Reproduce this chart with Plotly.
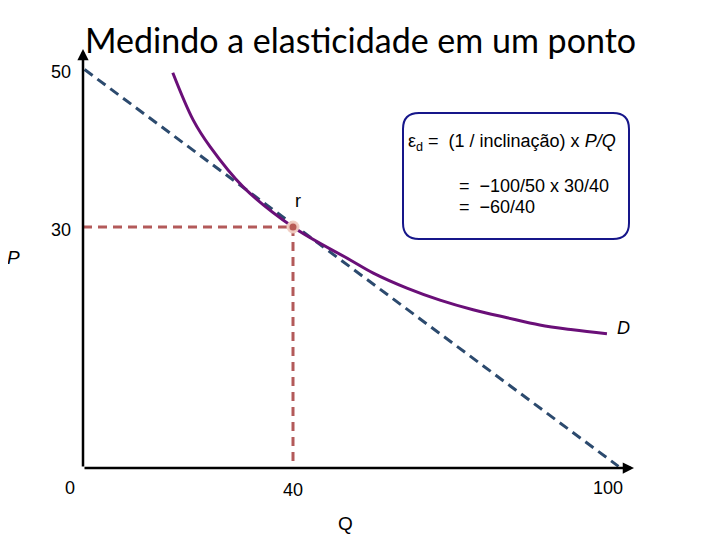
import plotly.graph_objects as go

# ---------------- data ----------------
demand_q = [17.1, 21.0, 24.2, 30.5, 40.0, 50.9, 55.2, 61.7, 68.0, 74.3, 80.8, 87.0, 93.3, 99.8]
demand_p = [49.2, 43.3, 40.0, 35.0, 30.0, 25.9, 24.3, 22.4, 20.9, 19.7, 18.7, 17.8, 17.2, 16.7]
tangent_q = [0.3, 102.0]
tangent_p = [49.6, 0.2]
point_q = [40]
point_p = [30]
x_tick_vals = [0, 40, 100]
x_tick_text = ["0", "40", "100"]
y_tick_vals = [30, 50]
y_tick_text = ["30", "50"]
title_text = "Medindo a elasticidade em um ponto"
box_lines = [
    "ε<sub>d</sub> =  (1 / inclinação) x <i>P/Q</i>",
    "=  −100/50 x 30/40",
    "=  −60/40",
]

# ---------------- geometry helpers (page pixels -> data) ----------------
W, H = 720, 540
OFF = 8  # page body margin
X0PX, XS = 83.0, 5.25
Y0PX, YS = 468.0, 8.033


def px_x(px):
    return (px - X0PX) / XS


def px_y(py):
    return (Y0PX - py) / YS


fig = go.Figure()

# reference dashed guides at the point
fig.add_trace(go.Scatter(x=[0, point_q[0]], y=[point_p[0], point_p[0]], mode="lines",
                         line=dict(color="#b35a5a", width=3, dash="9px,6px"),
                         hoverinfo="skip", showlegend=False))
fig.add_trace(go.Scatter(x=[point_q[0], point_q[0]], y=[point_p[0], 0.6], mode="lines",
                         line=dict(color="#b35a5a", width=3, dash="9px,6px"),
                         hoverinfo="skip", showlegend=False))
# tangent line
fig.add_trace(go.Scatter(x=tangent_q, y=tangent_p, mode="lines",
                         line=dict(color="#2c4a6e", width=3, dash="10px,6px"),
                         hoverinfo="skip", showlegend=False))
# demand curve
fig.add_trace(go.Scatter(x=demand_q, y=demand_p, mode="lines",
                         line=dict(color="#6a0f78", width=3, shape="spline", smoothing=1.0),
                         hoverinfo="skip", showlegend=False))
# point r
fig.add_trace(go.Scatter(x=point_q, y=point_p, mode="markers",
                         marker=dict(size=10, color="#b85a55",
                                     line=dict(color="rgba(240,205,195,0.95)", width=3)),
                         hoverinfo="skip", showlegend=False))

annotations = []
axis_font = dict(family="Liberation Sans, Arial", size=18, color="black")

# axes with arrows
annotations.append(dict(x=px_x(634), y=0, ax=0, ay=0, xref="x", yref="y", axref="x", ayref="y",
                        text="", showarrow=True, arrowhead=2, arrowsize=0.9, arrowwidth=2.5,
                        arrowcolor="black", standoff=0, startstandoff=0))
annotations.append(dict(x=0, y=px_y(49), ax=0, ay=0, xref="x", yref="y", axref="x", ayref="y",
                        text="", showarrow=True, arrowhead=2, arrowsize=0.9, arrowwidth=2.5,
                        arrowcolor="black", standoff=0, startstandoff=0))

# x tick labels
x_shift = {0: -13, 40: 0, 100: 0}
y_off = {0: 20, 40: 22, 100: 20}
for v, t in zip(x_tick_vals, x_tick_text):
    annotations.append(dict(x=v, y=0, xref="x", yref="y", text=t, showarrow=False,
                            xshift=x_shift[v], yshift=-y_off[v], font=axis_font))
# y tick labels
y_shift = {30: -3, 50: -6}
for v, t in zip(y_tick_vals, y_tick_text):
    annotations.append(dict(x=0, y=v, xref="x", yref="y", text=t, showarrow=False,
                            xanchor="right", xshift=-10, yshift=y_shift[v], font=axis_font))

# axis titles and labels
lab_font = dict(family="Liberation Sans, Arial", size=19, color="black")
annotations.append(dict(x=px_x(345), y=px_y(523), xref="x", yref="y", text="Q", showarrow=False,
                        font=lab_font))
annotations.append(dict(x=px_x(13), y=px_y(257), xref="x", yref="y", text="<i>P</i>", showarrow=False,
                        font=lab_font))
annotations.append(dict(x=px_x(623), y=px_y(328), xref="x", yref="y", text="<i>D</i>", showarrow=False,
                        font=dict(family="Liberation Sans, Arial", size=18, color="black")))
annotations.append(dict(x=px_x(298), y=px_y(201), xref="x", yref="y", text="r", showarrow=False,
                        font=dict(family="Liberation Sans, Arial", size=18, color="black")))

# title
annotations.append(dict(x=px_x(360), y=px_y(39), xref="x", yref="y", text=title_text, showarrow=False,
                        font=dict(family="Lato", size=34, color="black")))

# box text
box_font = dict(family="Liberation Sans, Arial", size=18, color="black")
annotations.append(dict(x=px_x(406), y=px_y(142), xref="x", yref="y", text=box_lines[0],
                        showarrow=False, xanchor="left", font=box_font))
annotations.append(dict(x=px_x(457), y=px_y(186), xref="x", yref="y", text=box_lines[1],
                        showarrow=False, xanchor="left", font=box_font))
annotations.append(dict(x=px_x(457), y=px_y(207), xref="x", yref="y", text=box_lines[2],
                        showarrow=False, xanchor="left", font=box_font))

# rounded box
bx0, bx1, by0, by1, r = 403, 629, 113, 239, 16
rx, ry = r / XS, r / YS
x0, x1 = px_x(bx0), px_x(bx1)
y0, y1 = px_y(by1), px_y(by0)
path = (f"M {x0+rx},{y1} L {x1-rx},{y1} Q {x1},{y1} {x1},{y1-ry} "
        f"L {x1},{y0+ry} Q {x1},{y0} {x1-rx},{y0} L {x0+rx},{y0} Q {x0},{y0} {x0},{y0+ry} "
        f"L {x0},{y1-ry} Q {x0},{y1} {x0+rx},{y1} Z")
shapes = [dict(type="path", path=path, xref="x", yref="y",
               line=dict(color="#16168a", width=2), fillcolor="rgba(0,0,0,0)")]

fig.update_layout(
    width=W, height=H, autosize=False,
    margin=dict(l=0, r=0, t=0, b=0),
    paper_bgcolor="white", plot_bgcolor="white",
    xaxis=dict(range=[px_x(OFF), px_x(OFF + W)], visible=False, fixedrange=True),
    yaxis=dict(range=[px_y(OFF + H), px_y(OFF)], visible=False, fixedrange=True),
    annotations=annotations, shapes=shapes,
)

fig.write_html("out.html")
